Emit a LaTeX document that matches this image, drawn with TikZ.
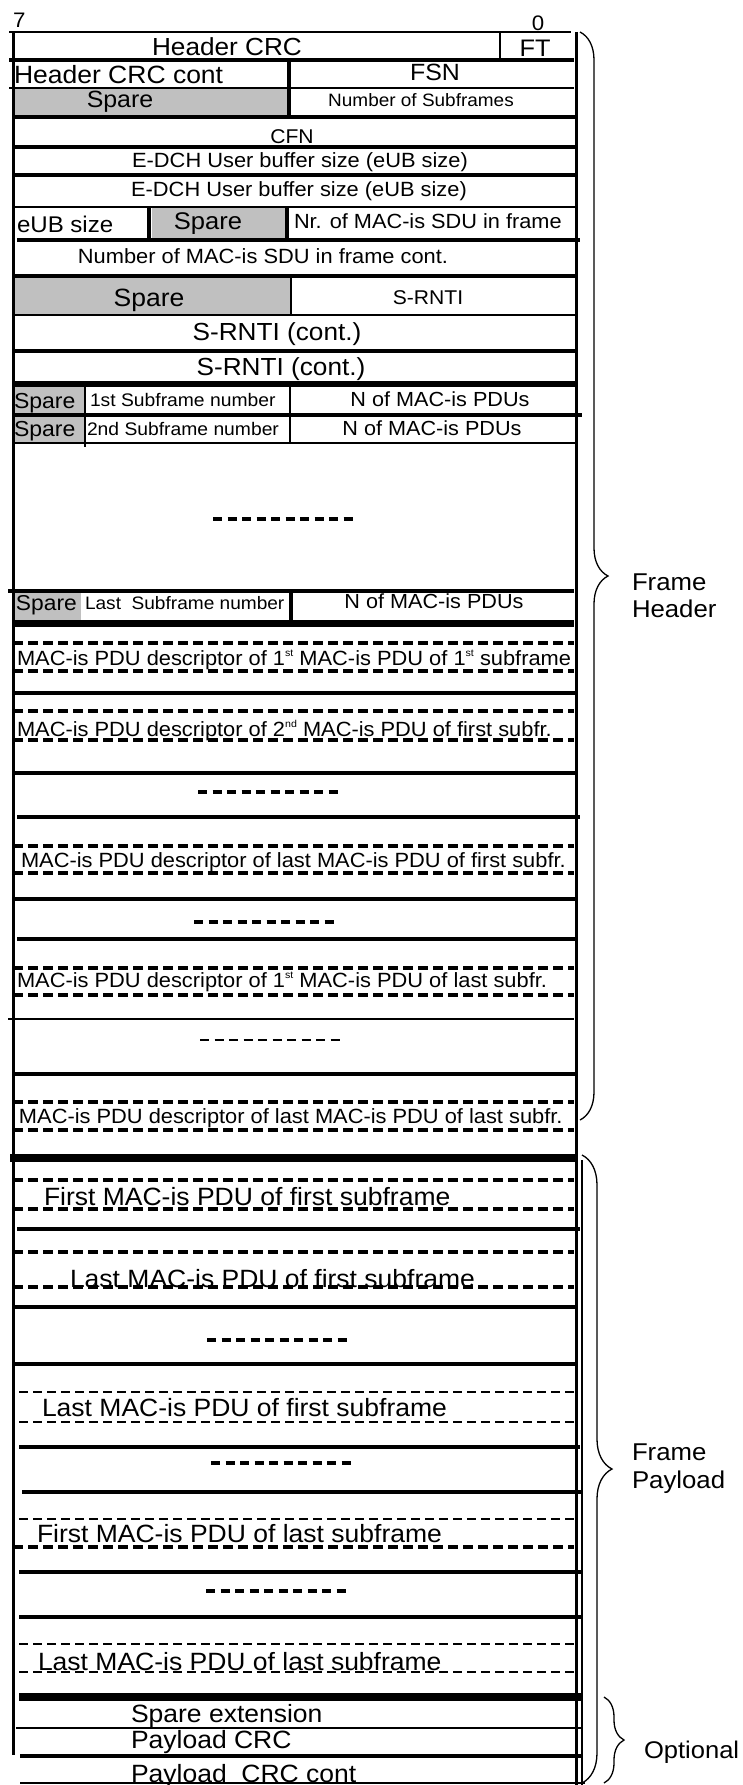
\documentclass[tikz,border=0pt]{standalone}
\usepackage{fontspec}
\setmainfont{Liberation Sans}[FakeStretch=1.06]
\usetikzlibrary{decorations.pathreplacing}
\definecolor{sparegray}{HTML}{C0C0C0}
\newcommand\fs[1]{\fontsize{#1}{#1}\selectfont}
\newcommand\mysup[1]{\raisebox{0.8ex}{\fontsize{10}{10}\selectfont #1}}
\begin{document}
\begin{tikzpicture}[x=1pt,y=-1pt,
  t/.style={inner sep=0pt, outer sep=0pt, anchor=base},
  tl/.style={inner sep=0pt, outer sep=0pt, anchor=base west},
  thinl/.style={line width=1.5pt},
  thickl/.style={line width=3.2pt},
  vthick/.style={line width=7pt},
  dashthick/.style={line width=3.2pt, dash pattern=on 10pt off 5pt},
  dashthin/.style={line width=1.5pt, dash pattern=on 9pt off 5pt},
  sepl/.style={line width=3.2pt, dash pattern=on 9pt off 5.5pt},
  bracel/.style={line width=1.3pt, decorate, decoration={brace, amplitude=#1}},
]
\useasboundingbox (0,0) rectangle (742,1785);
\fill[white] (0,0) rectangle (742,1785);

% spare fills
\fill[sparegray] (14,88) rectangle (289,117);
\fill[sparegray] (152,208) rectangle (286,239);
\fill[sparegray] (14,277) rectangle (291,315);
\fill[sparegray] (14,386) rectangle (84,443);
\fill[sparegray] (14,593) rectangle (81,622);

% horizontal solid lines
\draw[line width=2pt] (9,32) -- (571,32);
\draw[thickl] (9,60) -- (574,60);
\draw[thinl] (9,88) -- (574,88);
\foreach \y in {117,147,175,276,351,693,773,899,1074,1307,1364}
  \draw[thickl] (13,\y) -- (576,\y);
\draw[line width=1.8pt] (13,207) -- (576,207);
\draw[thickl] (17,240) -- (580,240);
\draw[line width=2pt] (13,315) -- (576,315);
\draw[line width=6pt] (13,384) -- (578,384);
\draw[thickl] (13,415) -- (582,415);
\draw[line width=2pt] (13,443) -- (576,443);
\draw[line width=4pt] (8,591) -- (574,591);
\draw[vthick] (13,623) -- (574,623);
\draw[thickl] (17,817) -- (580,817);
\draw[thickl] (17,939) -- (576,939);
\draw[line width=1.8pt] (8,1019) -- (574,1019);
\draw[line width=8pt] (10,1158) -- (576,1158);
\draw[thickl] (17,1229) -- (580,1229);
\draw[thickl] (19,1447) -- (580,1447);
\draw[thickl] (22,1492) -- (582,1492);
\draw[thickl] (19,1572) -- (582,1572);
\draw[thickl] (19,1617) -- (582,1617);
\draw[line width=8pt] (19,1697) -- (582,1697);
\draw[thinl] (16,1728) -- (582,1728);
\draw[thickl] (20,1756) -- (582,1756);
\draw[thinl] (20,1783) -- (585,1783);

% dashed lines
\foreach \y in {643,671,711,740,846,873,968,995,1102,1130,1180,1209,1252,1287,1547}
  \draw[dashthick] (13,\y) -- (574,\y);
\foreach \y in {1392,1422,1519,1644,1672}
  \draw[dashthin] (19,\y) -- (574,\y);

% separators
\draw[sepl] (213,519) -- (353,519);
\draw[sepl] (198,792) -- (338,792);
\draw[sepl] (194,922) -- (334,922);
\draw[sepl, line width=1.8pt] (200,1040) -- (340,1040);
\draw[sepl] (207,1340) -- (347,1340);
\draw[sepl] (211,1463) -- (351,1463);
\draw[sepl] (206,1591) -- (346,1591);

% vertical lines
\draw[line width=3pt] (13,32) -- (13,1755);
\draw[line width=3pt] (576,32) -- (576,1785);
\draw[line width=1.2pt] (582,1160) -- (582,1785);
\draw[line width=2pt] (500,32) -- (500,62);
\draw[thickl] (289,60) -- (289,117);
\draw[line width=3.5pt] (149,207) -- (149,239);
\draw[line width=3.5pt] (287,207) -- (287,239);
\draw[line width=2pt] (291,276) -- (291,315);
\draw[line width=2pt] (85,387) -- (85,447);
\draw[line width=2pt] (290,387) -- (290,443);
\draw[thickl] (291,591) -- (291,623);

% braces
\draw[bracel=28] (580,32) -- (580,1120);
\draw[bracel=30] (582,1155) -- (582,1783);
\draw[bracel=20] (604,1697) -- (604,1783);

% texts
\node[tl] (h7) at (13,28) {\fs{21}7};
\node[t] (h0) at (538,31) {\fs{21}0};
\node[t] (hcrc) at (227,56) {\fs{24.7}Header CRC};
\node[t] (ft) at (535,57) {\fs{23.9}FT};
\node[tl] (hcrcc) at (14,83) {\fs{25}Header CRC cont};
\node[t] (fsn) at (435,81) {\fs{23.5}FSN};
\node[t] (sp1) at (120,107) {\fs{23.5}Spare};
\node[t] (nsub) at (421,106) {\fs{17.9}Number of Subframes};
\node[t] (cfn) at (292,143) {\fs{19.9}CFN};
\node[t] (eub1) at (300,167) {\fs{20.6}E-DCH User buffer size (eUB size)};
\node[t] (eub2) at (299,196) {\fs{20.6}E-DCH User buffer size (eUB size)};
\node[tl] (eubs) at (17,232) {\fs{22.7}eUB size};
\node[t] (sp2) at (208,229) {\fs{24.1}Spare};
\node[tl] (nrmac) at (294,228) {\fs{20.5}Nr. of MAC-is SDU in frame};
\node[t] (nmac) at (263,263) {\fs{20.6}Number of MAC-is SDU in frame cont.};
\node[t] (sp3) at (149,306) {\fs{25}Spare};
\node[t] (srnti) at (428,304) {\fs{19.9}S-RNTI};
\node[t] (src1) at (277,340) {\fs{24.7}S-RNTI (cont.)};
\node[t] (src2) at (281,375) {\fs{24.7}S-RNTI (cont.)};
\node[tl] (sp4) at (14,408) {\fs{21.7}Spare};
\node[tl] (sub1) at (90,406) {\fs{18.2}1st Subframe number};
\node[t] (nm1) at (440,406) {\fs{20.4}N of MAC-is PDUs};
\node[tl] (sp5) at (14,436) {\fs{21.7}Spare};
\node[tl] (sub2) at (87,435) {\fs{18.2}2nd Subframe number};
\node[t] (nm2) at (432,435) {\fs{20.4}N of MAC-is PDUs};
\node[tl] (sp6) at (16,610) {\fs{21.5}Spare};
\node[tl] (subl) at (85,609) {\fs{18}Last\ \ Subframe number};
\node[t] (nml) at (434,608) {\fs{20.4}N of MAC-is PDUs};
\node[tl] (d1) at (17,665) {\fs{20.6}MAC-is PDU descriptor of 1\mysup{st} MAC-is PDU of 1\mysup{st} subframe};
\node[tl] (d2) at (17,736) {\fs{20.6}MAC-is PDU descriptor of 2\mysup{nd} MAC-is PDU of first subfr.};
\node[tl] (d3) at (21,867) {\fs{20.6}MAC-is PDU descriptor of last MAC-is PDU of first subfr.};
\node[tl] (d4) at (17,987) {\fs{20.6}MAC-is PDU descriptor of 1\mysup{st} MAC-is PDU of last subfr.};
\node[tl] (d5) at (19,1123) {\fs{20.6}MAC-is PDU descriptor of last MAC-is PDU of last subfr.};
\node[tl] (p1) at (44,1205) {\fs{25}First MAC-is PDU of first subframe};
\node[tl] (p2) at (70,1287) {\fs{25}Last MAC-is PDU of first subframe};
\node[tl] (p3) at (42,1416) {\fs{25}Last MAC-is PDU of first subframe};
\node[tl] (p4) at (37,1542) {\fs{25}First MAC-is PDU of last subframe};
\node[tl] (p5) at (38,1670) {\fs{25}Last MAC-is PDU of last subframe};
\node[tl] (o1) at (131,1722) {\fs{25}Spare extension};
\node[tl] (o2) at (131,1748) {\fs{25}Payload CRC};
\node[tl] (o3) at (131,1782) {\fs{25}Payload\ \ CRC cont};
\node[tl] (lh1) at (632,590) {\fs{24.3}Frame};
\node[tl] (lh2) at (632,617) {\fs{24.3}Header};
\node[tl] (lp1) at (632,1460) {\fs{24.3}Frame};
\node[tl] (lp2) at (632,1488) {\fs{24.3}Payload};
\node[tl] (lo) at (644,1758) {\fs{24.1}Optional};
\end{tikzpicture}
\end{document}
